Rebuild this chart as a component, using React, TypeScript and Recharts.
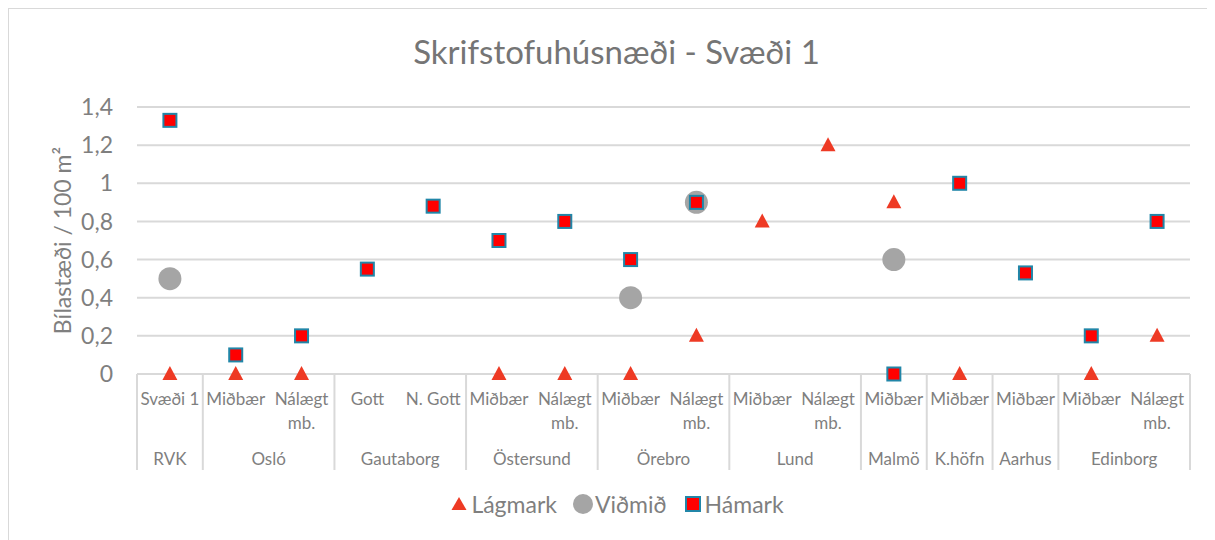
import React from "react";
import { ScatterChart, Scatter, XAxis, YAxis, CartesianGrid } from "recharts";

const groups = ["RVK", "Osló", "Gautaborg", "Östersund", "Örebro", "Lund", "Malmö", "K.höfn", "Aarhus", "Edinborg"];
const groupSpan = [1, 2, 2, 2, 2, 2, 1, 1, 1, 2];
const subLabels = [
  "Svæði 1",
  "Miðbær", "Nálægt mb.",
  "Gott", "N. Gott",
  "Miðbær", "Nálægt mb.",
  "Miðbær", "Nálægt mb.",
  "Miðbær", "Nálægt mb.",
  "Miðbær",
  "Miðbær",
  "Miðbær",
  "Miðbær", "Nálægt mb.",
];
const lagmark = [0, 0, 0, null, null, 0, 0, 0, 0.2, 0.8, 1.2, 0.9, 0, null, 0, 0.2];
const vidmid = [0.5, null, null, null, null, null, null, 0.4, 0.9, null, null, 0.6, null, null, null, null];
const hamark = [1.33, 0.1, 0.2, 0.55, 0.88, 0.7, 0.8, 0.6, 0.9, null, null, 0, 1.0, 0.53, 0.2, 0.8];
const yTicks = [0, 0.2, 0.4, 0.6, 0.8, 1, 1.2, 1.4];

const FONT = "Lato, 'Open Sans', sans-serif";
const GREY = "#7f7f7f";
const GRID = "#d9d9d9";
const RED_TRI = "#ee3a24";
const CIRCLE = "#a5a5a5";
const SQ_FILL = "#ff0000";
const SQ_EDGE = "#2186a8";

const toPoints = (vals: (number | null)[]) =>
  vals
    .map((v, i) => ({ x: i + 0.5, y: v }))
    .filter((p) => p.y !== null);

// group boundaries and centres on the category scale
const boundaries: number[] = [0];
const groupCentres: number[] = [];
groupSpan.forEach((s) => {
  const start = boundaries[boundaries.length - 1];
  groupCentres.push(start + s / 2);
  boundaries.push(start + s);
});
const subCentres = subLabels.map((_, i) => i + 0.5);
const axisTicks = Array.from(new Set([...boundaries, ...subCentres, ...groupCentres])).sort((a, b) => a - b);

const Triangle = (props: any) => {
  const { cx, cy } = props;
  return <polygon points={`${cx},${cy - 8} ${cx + 7.5},${cy + 6} ${cx - 7.5},${cy + 6}`} fill={RED_TRI} />;
};
const Circle = (props: any) => <circle cx={props.cx} cy={props.cy} r={11.5} fill={CIRCLE} />;
const Square = (props: any) => (
  <rect x={props.cx - 6.5} y={props.cy - 6.5} width={13} height={13} fill={SQ_FILL} stroke={SQ_EDGE} strokeWidth={2} />
);

// one tick renderer for the two-level category axis
const CategoryTick = (props: any) => {
  const { x, y, payload } = props;
  const v = payload.value as number;
  const parts: React.ReactNode[] = [];
  if (boundaries.includes(v)) {
    parts.push(<line key="sep" x1={x} x2={x} y1={y} y2={y + 96} stroke={GRID} strokeWidth={2} />);
  }
  const si = subCentres.indexOf(v);
  if (si >= 0) {
    const label = subLabels[si];
    const cut = label.lastIndexOf(" ");
    const lines = label.length > 7 ? [label.slice(0, cut), label.slice(cut + 1)] : [label];
    parts.push(
      <text key="sub" x={x} y={y} textAnchor="middle" fill={GREY} fontSize={17} fontFamily={FONT}>
        {lines.map((l, k) => (
          <tspan key={k} x={x} dy={k === 0 ? 31 : 24}>
            {l}
          </tspan>
        ))}
      </text>
    );
  }
  const gi = groupCentres.indexOf(v);
  if (gi >= 0) {
    parts.push(
      <text key="grp" x={x} y={y} dy={91} textAnchor="middle" fill={GREY} fontSize={17} fontFamily={FONT}>
        {groups[gi]}
      </text>
    );
  }
  return <g>{parts}</g>;
};

const YLabel = (props: any) => {
  const { viewBox } = props;
  const cx = viewBox.x + 53;
  const cy = viewBox.y + viewBox.height / 2;
  return (
    <text x={cx} y={cy} transform={`rotate(-90, ${cx}, ${cy})`} textAnchor="middle" dominantBaseline="central" fill={GREY} fontSize={23} fontFamily={FONT}>
      Bílastæði / 100 m²
    </text>
  );
};

const legendItems = [
  { name: "Lágmark", icon: <polygon points="10,3 17.5,16 2.5,16" fill={RED_TRI} /> },
  { name: "Viðmið", icon: <circle cx={10} cy={10} r={10} fill={CIRCLE} /> },
  { name: "Hámark", icon: <rect x={3} y={3} width={14} height={14} fill={SQ_FILL} stroke={SQ_EDGE} strokeWidth={2} /> },
];

export default function App() {
  return (
    <div style={{ position: "relative", width: 1215, height: 540, border: `1px solid ${GRID}`, fontFamily: FONT }}>
      <div style={{ position: "absolute", top: 22, left: 0, width: 1215, textAlign: "center", fontSize: 33, color: "#757575" }}>
        Skrifstofuhúsnæði - Svæði 1
      </div>
      <ScatterChart width={1215} height={540} margin={{ top: 98, right: 34, bottom: 79, left: 0 }}>
        <CartesianGrid vertical={false} stroke={GRID} strokeWidth={2} />
        <XAxis
          xAxisId="cat"
          type="number"
          dataKey="x"
          domain={[0, 16]}
          ticks={axisTicks}
          interval={0}
          tick={<CategoryTick />}
          tickLine={false}
          tickSize={0}
          tickMargin={0}
          axisLine={{ stroke: GRID, strokeWidth: 2 }}
          height={96}
        />
        <YAxis
          type="number"
          dataKey="y"
          domain={[0, 1.4]}
          ticks={yTicks}
          interval={0}
          width={128}
          axisLine={false}
          tickLine={false}
          tickSize={0}
          tickMargin={24}
          tick={{ fill: GREY, fontSize: 23, fontFamily: FONT }}
          tickFormatter={(v: number) => String(Math.round(v * 10) / 10).replace(".", ",")}
          label={<YLabel />}
        />
        <Scatter xAxisId="cat" name="Lágmark" data={toPoints(lagmark)} shape={<Triangle />} isAnimationActive={false} />
        <Scatter xAxisId="cat" name="Viðmið" data={toPoints(vidmid)} shape={<Circle />} isAnimationActive={false} />
        <Scatter xAxisId="cat" name="Hámark" data={toPoints(hamark)} shape={<Square />} isAnimationActive={false} />
      </ScatterChart>
      <div style={{ position: "absolute", top: 481, left: 0, width: 1215, display: "flex", justifyContent: "center", gap: 16, fontSize: 23, color: GREY }}>
        {legendItems.map((it) => (
          <div key={it.name} style={{ display: "flex", alignItems: "center", gap: 2 }}>
            <svg width={20} height={20}>{it.icon}</svg>
            <span>{it.name}</span>
          </div>
        ))}
      </div>
    </div>
  );
}
